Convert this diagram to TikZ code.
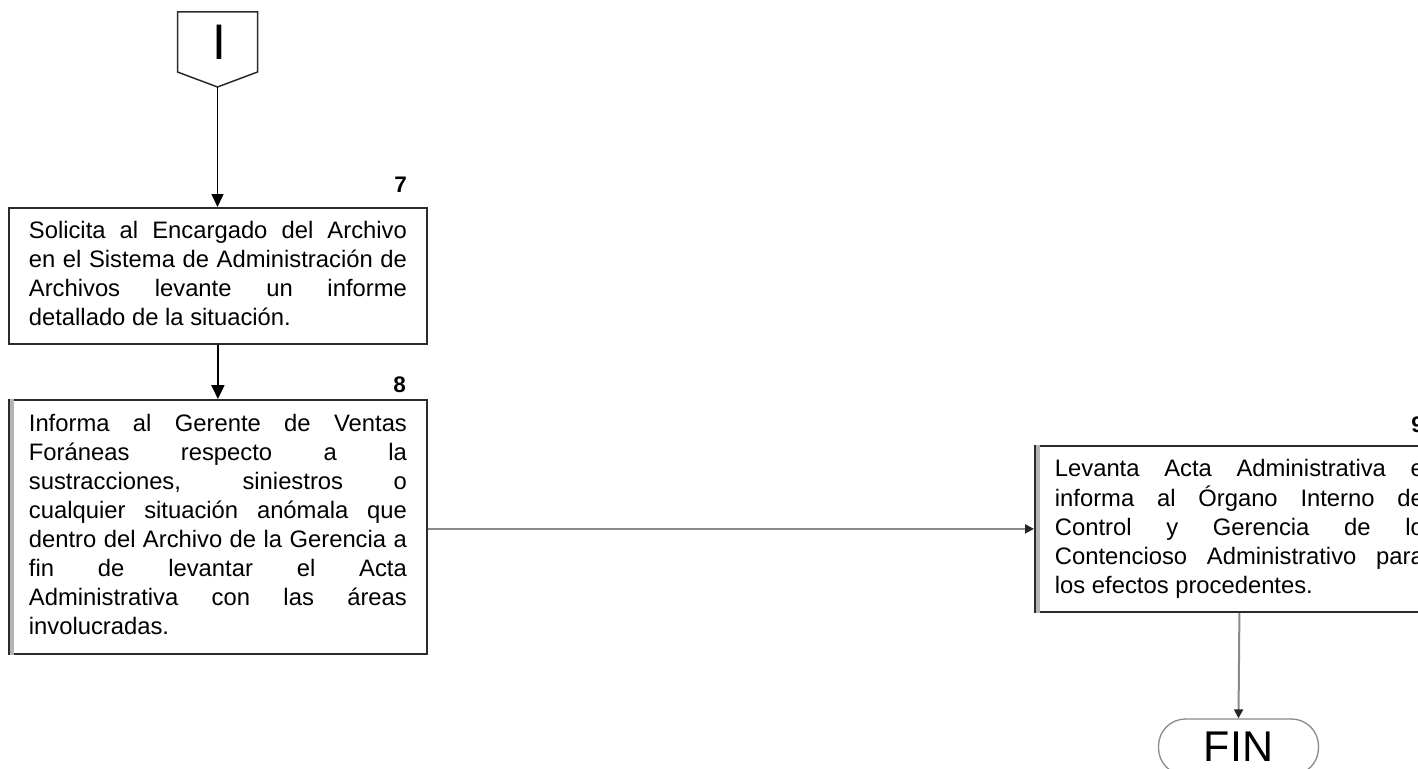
\documentclass[tikz,border=0pt]{standalone}
\usepackage{fontspec}
\setmainfont{Liberation Sans}
\usetikzlibrary{arrows.meta}
\definecolor{boxline}{HTML}{2B2B2B}
\definecolor{flowgray}{HTML}{8A8A8A}
\definecolor{edgegray}{HTML}{B4B4B4}
\newcommand\bodyfont{\fontsize{23.8}{29}\selectfont\tolerance=10000\hyphenpenalty=10000\relax}
\begin{document}
\begin{tikzpicture}[x=1pt,y=-1pt,
  stepbox/.style={draw=boxline, line width=1.8pt, anchor=north west,
    text width=#1, inner xsep=20pt, inner ysep=0pt, align=justify, font=\bodyfont},
  steplabel/.style={anchor=base east, font=\fontsize{22.5}{22.5}\selectfont\bfseries, inner sep=0pt},
  darkflow/.style={draw=black, line width=2.2pt, -{Triangle[width=13pt,length=14pt]}},
  thinflow/.style={draw=black, line width=1.5pt, -{Triangle[width=12pt,length=13pt]}},
  grayflow/.style={draw=flowgray, line width=2pt, -{Triangle[width=9pt,length=9pt,color=black!85]}},
  terminal/.style={draw=flowgray, line width=1.3pt, rounded corners=27pt,
    minimum width=160pt, minimum height=56pt, inner sep=0pt,
    font=\fontsize{43}{43}\selectfont}
]
\useasboundingbox (0,0) rectangle (1418,768);
\clip (0,0) rectangle (1418,768);
\fill[white] (0,0) rectangle (1418,768);

% off-page connector
\draw[line width=1.5pt, draw=boxline] (177.5,12) -- (257.5,12) -- (257.5,72) -- (217.5,87) -- (177.5,72) -- cycle;
\node[font=\fontsize{50}{50}\selectfont, inner sep=0pt] (conlabel) at (219,42.5) {I};
\coordinate (contip) at (217.5,87);

% step 7
\node[stepbox=378pt, minimum height=136pt] (b7) at (8,207)
  {\strut Solicita al Encargado del Archivo\linebreak
   en el Sistema de Administración de\linebreak
   Archivos levante un informe\linebreak
   detallado de la situación.\strut};
\node[steplabel] (n7) at (407,192) {7};

% step 8
\node[stepbox=378pt, minimum height=254pt] (b8) at (8,399)
  {\strut Informa al Gerente de Ventas\linebreak
   Foráneas respecto a la\linebreak
   sustracciones, siniestros o\linebreak
   cualquier situación anómala que\linebreak
   dentro del Archivo de la Gerencia a\linebreak
   fin de levantar el Acta\linebreak
   Administrativa con las áreas\linebreak
   involucradas.\strut};
\node[steplabel] (n8) at (406,392) {8};
\draw[edgegray, line width=4pt] ([xshift=3.5pt]b8.north west) -- ([xshift=3.5pt]b8.south west);

% step 9
\node[stepbox=369pt, minimum height=166pt] (b9) at (1034,445)
  {\strut Levanta Acta Administrativa e\linebreak
   informa al Órgano Interno de\linebreak
   Control y Gerencia de lo\linebreak
   Contencioso Administrativo para\linebreak
   los efectos procedentes.\strut};
\node[steplabel] (n9) at (1424,432) {9};
\draw[edgegray, line width=4pt] ([xshift=3.5pt]b9.north west) -- ([xshift=3.5pt]b9.south west);

% end terminal
\node[terminal] (fin) at (1238.5,747) {FIN};

% connectors
\draw[thinflow] (contip) -- (contip |- b7.north);
\draw[darkflow] (b7.south) -- (b8.north);
\draw[grayflow] (b8.east |- b9.west) -- (b9.west);
\draw[grayflow] (b9.south) -- (fin.north);
\end{tikzpicture}
\end{document}
